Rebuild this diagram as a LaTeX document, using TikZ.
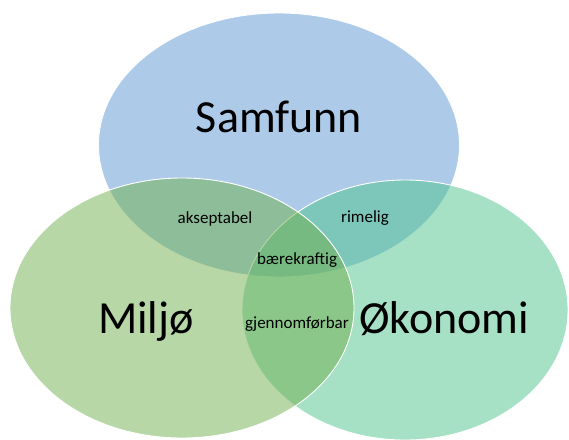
\documentclass[tikz,border=0pt]{standalone}
\usepackage{fontspec}
\setmainfont{Carlito}
\usetikzlibrary{shapes.geometric}
\definecolor{SamBlue}{HTML}{5B97D1}
\definecolor{MilGreen}{HTML}{71AF4D}
\definecolor{OkoGreen}{HTML}{4DC38D}

\begin{document}
\begin{tikzpicture}[x=1pt,y=-1pt,
    set/.style={ellipse,draw=white,line width=.9pt,fill opacity=.5,inner sep=0pt},
    big/.style={anchor=base,font=\fontsize{46}{50}\selectfont},
    small/.style={anchor=base,font=\fontsize{17}{20}\selectfont}
  ]
    \useasboundingbox (0,0) rectangle (569,439);
    \node[set,fill=SamBlue,minimum width=361pt,minimum height=264pt] (samf) at (279,145) {};
    \node[set,fill=OkoGreen,minimum width=326pt,minimum height=260pt] (okon) at (405,310) {};
    \node[set,fill=MilGreen,minimum width=344pt,minimum height=260pt] (milj) at (182,308) {};
    \node[big] (tsamf) at (279,132) {Samfunn};
    \node[big] (tmilj) at (146,333) {Miljø};
    \node[big] (tokon) at (444,333) {Økonomi};
    \node[small] (akse) at (215,223) {akseptabel};
    \node[small] (rime) at (365,222) {rimelig};
    \node[small] (baer) at (297,264) {bærekraftig};
    \node[small] (gjen) at (297,328) {gjennomførbar};
  \end{tikzpicture}
\end{document}
